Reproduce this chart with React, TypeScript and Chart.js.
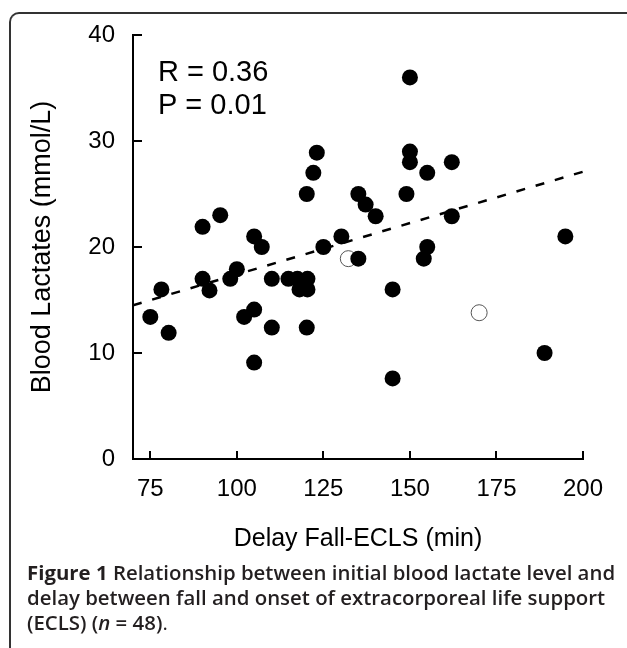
import React, { useEffect, useRef } from "react";
import { Chart, registerables } from "chart.js";
Chart.register(...registerables);

// Filled circles (delay in min, lactate in mmol/L)
const filledDelay = [75, 78.2, 80.3, 90.1, 95.2, 90.1, 92.1, 98.1, 100, 102.1, 105, 105, 105, 107.2, 110.1, 110.1, 114.9, 117.5, 118.1, 120.4, 120.4, 120.2, 125, 130.2, 120.2, 122.1, 123.1, 150, 150, 150, 155, 162.1, 135.1, 137.2, 140.1, 149, 162.1, 135.1, 155, 154, 145, 188.9, 145, 194.9];
const filledLactate = [13.4, 16, 11.9, 21.9, 23, 17, 15.9, 17, 17.9, 13.4, 14.1, 9.1, 21, 20, 17, 12.4, 17, 17, 16, 17, 16, 12.4, 20, 21, 25, 27, 28.9, 36, 29, 28, 27, 28, 25, 24, 22.9, 25, 22.9, 18.9, 20, 18.9, 16, 10, 7.6, 21];
// Open circles
const openDelay = [132.2, 170];
const openLactate = [18.9, 13.8];
// Regression line end points
const fitDelay = [70, 200];
const fitLactate = [14.5, 27.1];
// Axes
const xTicks = [75, 100, 125, 150, 175, 200];
const yTicks = [0, 10, 20, 30, 40];
const statText = ["R = 0.36", "P = 0.01"];
const statPos = [
  [77.2, 36.4],
  [77.2, 33.3],
];

const FONT = '"Liberation Sans", Arial, sans-serif';
const CANVAS_W = 627;
const CANVAS_H = 560;

const overlay = {
  id: "overlay",
  afterDraw(chart: any) {
    const { ctx } = chart;
    const x = chart.scales.x;
    const y = chart.scales.y;
    ctx.save();
    ctx.strokeStyle = "#000";
    ctx.lineWidth = 2;
    const y0 = y.getPixelForValue(0);
    xTicks.forEach((v) => {
      const px = Math.round(x.getPixelForValue(v));
      ctx.beginPath();
      ctx.moveTo(px, y0);
      ctx.lineTo(px, y0 - 8);
      ctx.stroke();
    });
    const x0 = x.getPixelForValue(70);
    yTicks.forEach((v) => {
      const py = Math.round(y.getPixelForValue(v));
      ctx.beginPath();
      ctx.moveTo(x0, py);
      ctx.lineTo(x0 + 9, py);
      ctx.stroke();
    });
    ctx.fillStyle = "#000";
    ctx.font = `29px ${FONT}`;
    ctx.textBaseline = "middle";
    ctx.textAlign = "left";
    statText.forEach((t, i) => {
      ctx.fillText(t, x.getPixelForValue(statPos[i][0]), y.getPixelForValue(statPos[i][1]));
    });
    ctx.restore();
  },
};

function ScatterChart() {
  const ref = useRef<HTMLCanvasElement>(null);
  useEffect(() => {
    if (!ref.current) return;
    const chart = new Chart(ref.current, {
      type: "scatter",
      data: {
        datasets: [
          {
            label: "fit",
            data: fitDelay.map((v, i) => ({ x: v, y: fitLactate[i] })),
            showLine: true,
            borderColor: "#000",
            borderWidth: 2.5,
            borderDash: [9, 11],
            pointRadius: 0,
            order: 3,
          } as any,
          {
            label: "open",
            data: openDelay.map((v, i) => ({ x: v, y: openLactate[i] })),
            backgroundColor: "#fff",
            borderColor: "#555",
            borderWidth: 1,
            pointRadius: 8,
            order: 2,
          },
          {
            label: "filled",
            data: filledDelay.map((v, i) => ({ x: v, y: filledLactate[i] })),
            backgroundColor: "#000",
            borderColor: "#000",
            borderWidth: 0,
            pointRadius: 8,
            order: 1,
          },
        ],
      },
      options: {
        responsive: false,
        animation: false,
        devicePixelRatio: 1,
        layout: { padding: { left: 0, top: 35, right: 44, bottom: 0 } },
        plugins: { legend: { display: false }, tooltip: { enabled: false } },
        scales: {
          x: {
            type: "linear",
            min: 70,
            max: 200,
            afterBuildTicks: (axis: any) => {
              axis.ticks = xTicks.map((v) => ({ value: v }));
            },
            afterFit: (scale: any) => {
              scale.height = CANVAS_H - 459;
            },
            grid: { display: false, drawTicks: false },
            border: { display: true, color: "#000", width: 2 },
            ticks: {
              color: "#000",
              font: { family: FONT, size: 24 },
              padding: 16,
              maxRotation: 0,
              autoSkip: false,
            },
            title: {
              display: true,
              text: "Delay Fall-ECLS (min)",
              color: "#000",
              font: { family: FONT, size: 25 },
              padding: { top: 0, bottom: 6 },
            },
          },
          y: {
            type: "linear",
            min: 0,
            max: 40,
            afterBuildTicks: (axis: any) => {
              axis.ticks = yTicks.map((v) => ({ value: v }));
            },
            afterFit: (scale: any) => {
              scale.width = 133;
            },
            grid: { display: false, drawTicks: false },
            border: { display: true, color: "#000", width: 2 },
            ticks: {
              color: "#000",
              font: { family: FONT, size: 24 },
              padding: 18,
            },
            title: {
              display: true,
              text: "Blood Lactates (mmol/L)",
              color: "#000",
              font: { family: FONT, size: 27 },
              padding: { top: 26, bottom: 0 },
            },
          },
        },
      },
      plugins: [overlay],
    });
    return () => chart.destroy();
  }, []);
  return (
    <canvas
      ref={ref}
      width={CANVAS_W}
      height={CANVAS_H}
      style={{ position: "absolute", left: 0, top: 0, width: CANVAS_W, height: CANVAS_H }}
    />
  );
}

export default function App() {
  return (
    <div
      style={{
        position: "absolute",
        left: 0,
        top: 0,
        width: 627,
        height: 648,
        overflow: "hidden",
        background: "#fff",
      }}
    >
      <div
        style={{
          position: "absolute",
          left: 9,
          top: 12,
          width: 640,
          height: 660,
          borderTop: "2px solid #333",
          borderLeft: "2px solid #333",
          borderTopLeftRadius: 10,
          boxSizing: "border-box",
        }}
      />
      <ScatterChart />
      <div
        style={{
          position: "absolute",
          left: 27,
          top: 560,
          fontFamily: '"Open Sans", sans-serif',
          fontWeight: 600,
          fontSize: 20.4,
          lineHeight: "25px",
          color: "#231f20",
          whiteSpace: "nowrap",
        }}
      >
        <span style={{ fontWeight: 700 }}>Figure 1</span> Relationship between initial blood lactate level and
        <br />
        delay between fall and onset of extracorporeal life support
        <br />
        (ECLS) (<i>n</i> = 48)<span style={{ fontWeight: 400 }}>.</span>
      </div>
    </div>
  );
}
